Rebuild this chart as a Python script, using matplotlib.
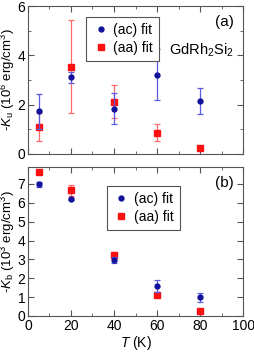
import numpy as np
import matplotlib.pyplot as plt
from matplotlib.lines import Line2D

plt.rcParams['font.family'] = ['Liberation Sans', 'DejaVu Sans']
plt.rcParams['mathtext.fontset'] = 'custom'
plt.rcParams['mathtext.rm'] = 'Liberation Sans'
plt.rcParams['mathtext.it'] = 'Liberation Sans:italic'

T = [5, 20, 40, 60, 80]

# panel (a): -Ku (10^6 erg/cm^3)
ku_ac = [1.73, 3.10, 1.84, 3.22, 2.14]
ku_ac_err = [0.70, 0.24, 0.64, 1.05, 0.54]
ku_aa = [1.09, 3.54, 2.12, 0.86, 0.23]
ku_aa_err = [0.57, 1.89, 0.67, 0.34, 0.04]

# panel (b): -Kb (10^3 erg/cm^3)
kb_ac = [6.98, 6.22, 2.97, 1.58, 0.99]
kb_ac_err = [0.12, 0.05, 0.15, 0.31, 0.25]
kb_aa = [7.63, 6.66, 3.25, 1.10, 0.27]
kb_aa_err = [0.05, 0.30, 0.15, 0.06, 0.04]

blue = "#10109a"
red = "#ff1010"
blue_err = "#5a5ae0"
red_err = "#ff6a6a"
frame = "#555555"

fig = plt.figure(figsize=(2.54, 3.53), dpi=100)
ax1 = fig.add_axes([0.110, 0.564, 0.847, 0.419])
ax2 = fig.add_axes([0.110, 0.105, 0.847, 0.422])


def draw(ax, ac, ac_err, aa, aa_err, anchor):
    ax.errorbar(T, ac, yerr=ac_err, fmt='o', color=blue, ecolor=blue_err,
                ms=3.5, elinewidth=0.9, capsize=2.5, capthick=0.9, zorder=3)
    ax.errorbar(T, aa, yerr=aa_err, fmt='s', color=red, ecolor=red_err,
                ms=4.5, elinewidth=0.9, capsize=2.5, capthick=0.9, zorder=2)
    ax.set_xlim(0, 100)
    ax.set_xticks([0, 20, 40, 60, 80, 100])
    ax.set_xticks([10, 30, 50, 70, 90], minor=True)
    ax.tick_params(direction='in', top=True, right=True, labelsize=10,
                   length=4, color=frame, pad=2)
    ax.tick_params(which='minor', direction='in', top=True, right=True,
                   length=2, color=frame)
    for s in ax.spines.values():
        s.set_color(frame)
    handles = [Line2D([], [], ls='none', marker='o', color=blue, ms=3.5),
               Line2D([], [], ls='none', marker='s', color=red, ms=4.5)]
    leg = ax.legend(handles, ["(ac) fit", "(aa) fit"], fontsize=10,
                    loc='upper left', bbox_to_anchor=anchor,
                    handletextpad=0.3, borderpad=0.45, labelspacing=0.25,
                    fancybox=False, edgecolor=frame, framealpha=1,
                    handlelength=1.2, borderaxespad=0)
    leg.get_frame().set_linewidth(0.8)


draw(ax1, ku_ac, ku_ac_err, ku_aa, ku_aa_err, (0.27, 0.925))
ax1.set_ylim(0, 6)
ax1.set_yticks([0, 2, 4, 6])
ax1.set_yticks([1, 3, 5], minor=True)
ax1.tick_params(labelbottom=False)
ax1.set_ylabel("-$K_{\\mathrm{u}}$ (10$^6$ erg/cm$^3$)", fontsize=9.5)
ax1.yaxis.set_label_coords(-0.05, 0.5)
ax1.text(0.955, 0.89, "(a)", transform=ax1.transAxes, ha='right', va='center', fontsize=11)
ax1.text(0.955, 0.70, "GdRh$_2$Si$_2$", transform=ax1.transAxes, ha='right', va='center', fontsize=10.5)

draw(ax2, kb_ac, kb_ac_err, kb_aa, kb_aa_err, (0.367, 0.872))
ax2.set_ylim(0, 7.9)
ax2.set_yticks(range(8))
ax2.set_ylabel("-$K_{\\mathrm{b}}$ (10$^3$ erg/cm$^3$)", fontsize=9.5)
ax2.yaxis.set_label_coords(-0.05, 0.5)
ax2.set_xlabel("$T$ (K)", fontsize=10, labelpad=1)
ax2.text(0.955, 0.89, "(b)", transform=ax2.transAxes, ha='right', va='center', fontsize=11)

fig.savefig("out.png", dpi=100)
